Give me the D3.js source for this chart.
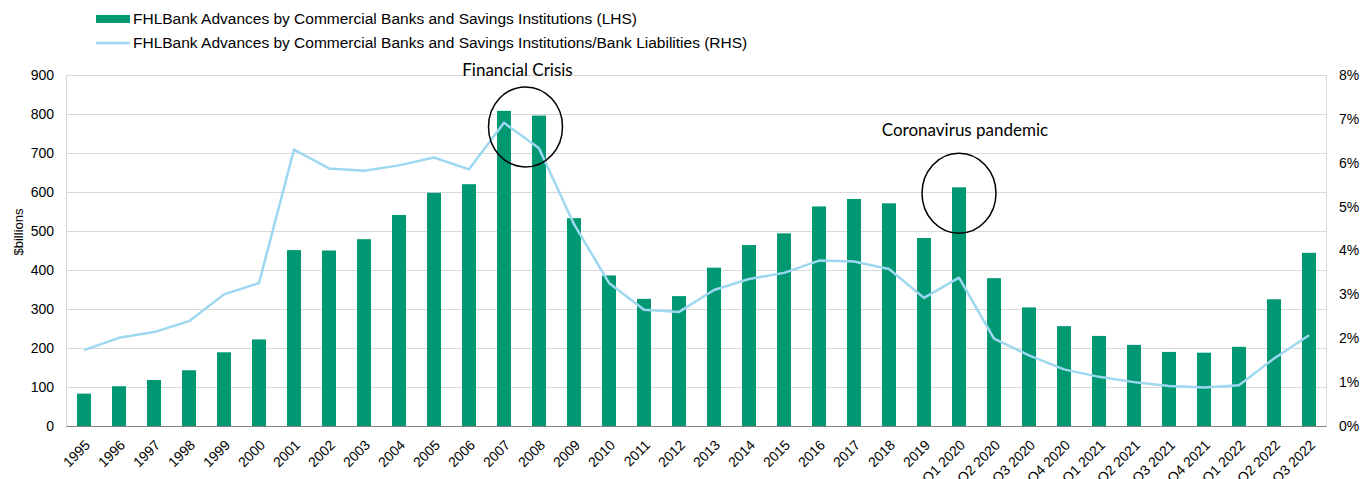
<!DOCTYPE html>
<html>
<head>
<meta charset="utf-8">
<script src="https://cdn.jsdelivr.net/npm/d3@7"></script>
<style>
    body { margin: 0; background: #fff; }
    svg { display: block; }
    .tick-label { font-family: "Liberation Sans", Arial, sans-serif; font-size: 14px; fill: #000; }
    .legend { font-family: "Liberation Sans", Arial, sans-serif; font-size: 15.5px; fill: #000; }
    .note { font-family: Lato, "Open Sans", sans-serif; font-size: 17px; fill: #000; }
</style>
</head>
<body>
<svg id="chart" width="1360" height="479"></svg>
<script>
// Periods on the x axis
var periods = ['1995', '1996', '1997', '1998', '1999', '2000', '2001', '2002', '2003', '2004',
    '2005', '2006', '2007', '2008', '2009', '2010', '2011', '2012', '2013', '2014', '2015',
    '2016', '2017', '2018', '2019', 'Q1 2020', 'Q2 2020', 'Q3 2020', 'Q4 2020', 'Q1 2021',
    'Q2 2021', 'Q3 2021', 'Q4 2021', 'Q1 2022', 'Q2 2022', 'Q3 2022'];

// Advances, $billions (LHS)
var advances = [83, 102, 118, 143, 189, 222, 451, 450, 479, 541,
    598, 620, 808, 796, 533, 386, 326, 333, 406, 464, 494,
    563, 582, 571, 482, 612, 379, 304, 256, 231,
    208, 190, 188, 203, 325, 444];

// Advances / bank liabilities (RHS)
var shareOfLiabilities = [0.0173, 0.0201, 0.0214, 0.0239, 0.0300, 0.0326, 0.0630, 0.0587, 0.0582, 0.0594,
    0.0612, 0.0585, 0.0691, 0.0633, 0.0460, 0.0326, 0.0265, 0.0260, 0.0310, 0.0335, 0.0349,
    0.0377, 0.0375, 0.0358, 0.0292, 0.0338, 0.0199, 0.0161, 0.0129, 0.0112,
    0.0100, 0.0091, 0.0088, 0.0093, 0.0154, 0.0207];

var leftTicks = [0, 100, 200, 300, 400, 500, 600, 700, 800, 900];
var rightTicks = [0, 0.01, 0.02, 0.03, 0.04, 0.05, 0.06, 0.07, 0.08];

var legendLabels = [
    'FHLBank Advances by Commercial Banks and Savings Institutions (LHS)',
    'FHLBank Advances by Commercial Banks and Savings Institutions/Bank Liabilities (RHS)'
];

// Annotated events: period the circle sits on and the text above it
var events = [
    {period: '2007', span: 2, label: 'Financial Crisis'},
    {period: 'Q1 2020', span: 1, label: 'Coronavirus pandemic'}
];

var green = '#009873';
var blue = '#9dd8f0';

// plot box (window.top is reserved, hence the prefixes)
var plotLeft = 66.5, plotRight = 1326.5, plotTop = 75, plotBottom = 426;

var svg = d3.select('#chart');

var x = d3.scaleBand().domain(periods).range([plotLeft, plotRight]).paddingInner(0.6).paddingOuter(0.3);
var yL = d3.scaleLinear().domain([0, 900]).range([plotBottom, plotTop]);
var yR = d3.scaleLinear().domain([0, 0.08]).range([plotBottom, plotTop]);

// gridlines
svg.append('g')
    .selectAll('line')
    .data(leftTicks.slice(1))
    .enter().append('line')
    .attr('x1', plotLeft).attr('x2', plotRight)
    .attr('y1', function (d) { return Math.round(yL(d)) + 0.5; })
    .attr('y2', function (d) { return Math.round(yL(d)) + 0.5; })
    .style('stroke', '#d9d9d9');

// side borders
[plotLeft, plotRight].forEach(function (xx) {
    svg.append('line')
        .attr('x1', xx).attr('x2', xx)
        .attr('y1', plotTop).attr('y2', plotBottom)
        .style('stroke', '#d9d9d9');
});

// bars
svg.append('g')
    .selectAll('rect')
    .data(periods)
    .enter().append('rect')
    .attr('x', function (d) { return x(d); })
    .attr('width', x.bandwidth())
    .attr('y', function (d, i) { return yL(advances[i]); })
    .attr('height', function (d, i) { return plotBottom - yL(advances[i]); })
    .style('fill', green);

// baseline
svg.append('line')
    .attr('x1', plotLeft).attr('x2', plotRight)
    .attr('y1', plotBottom + 0.5).attr('y2', plotBottom + 0.5)
    .style('stroke', '#7f7f7f');

// ratio line
var line = d3.line()
    .x(function (d, i) { return x(periods[i]) + x.bandwidth() / 2; })
    .y(function (d) { return yR(d); });

svg.append('path')
    .datum(shareOfLiabilities)
    .attr('d', line)
    .style('fill', 'none')
    .style('stroke', blue)
    .style('stroke-width', 2.5)
    .style('stroke-linejoin', 'round');

// left axis labels
svg.append('g')
    .selectAll('text')
    .data(leftTicks)
    .enter().append('text')
    .attr('class', 'tick-label')
    .attr('x', 54)
    .attr('y', function (d) { return yL(d); })
    .attr('dy', '0.35em')
    .attr('text-anchor', 'end')
    .text(function (d) { return d; });

// right axis labels
svg.append('g')
    .selectAll('text')
    .data(rightTicks)
    .enter().append('text')
    .attr('class', 'tick-label')
    .attr('x', 1339)
    .attr('y', function (d) { return yR(d); })
    .attr('dy', '0.35em')
    .text(d3.format('.0%'));

svg.append('text')
    .attr('class', 'tick-label')
    .attr('transform', 'translate(22.5,232) rotate(-90)')
    .attr('text-anchor', 'middle')
    .style('font-size', '13px')
    .text('$billions');

// x labels
svg.append('g')
    .selectAll('text')
    .data(periods)
    .enter().append('text')
    .attr('class', 'tick-label')
    .attr('text-anchor', 'end')
    .attr('transform', function (d) {
        return 'translate(' + (x(d) + x.bandwidth() / 2 + 7) + ',' + (plotBottom + 20) + ') rotate(-45)';
    })
    .text(function (d) { return d; });

// legend
var legend = svg.append('g');
legend.append('rect')
    .attr('x', 96).attr('y', 15).attr('width', 34).attr('height', 8)
    .style('fill', green);
legend.append('line')
    .attr('x1', 96).attr('x2', 130).attr('y1', 43).attr('y2', 43)
    .style('stroke', blue).style('stroke-width', 2.5);
legend.selectAll('text')
    .data(legendLabels)
    .enter().append('text')
    .attr('class', 'legend')
    .attr('x', 133)
    .attr('y', function (d, i) { return 19 + i * 24; })
    .attr('dy', '0.35em')
    .text(function (d) { return d; });

// event circles and notes
events.forEach(function (ev) {
    var i = periods.indexOf(ev.period);
    var x0 = x(ev.period);
    var cx = x0 + (x.step() * (ev.span - 1) + x.bandwidth()) / 2;
    var barTop = yL(d3.max(advances.slice(i, i + ev.span)));
    var wide = ev.span > 1;
    var ex = wide ? cx + 4 : cx;
    var ey = barTop + (wide ? 16 : 6);

    svg.append('ellipse')
        .attr('cx', ex).attr('cy', ey)
        .attr('rx', 37).attr('ry', 40)
        .style('fill', 'none')
        .style('stroke', '#000')
        .style('stroke-width', 1.5);

    svg.append('text')
        .attr('class', 'note')
        .attr('x', wide ? ex - 8 : ex + 6)
        .attr('y', wide ? ey - 51 : ey - 57)
        .attr('text-anchor', 'middle')
        .text(ev.label);
});
</script>
</body>
</html>
